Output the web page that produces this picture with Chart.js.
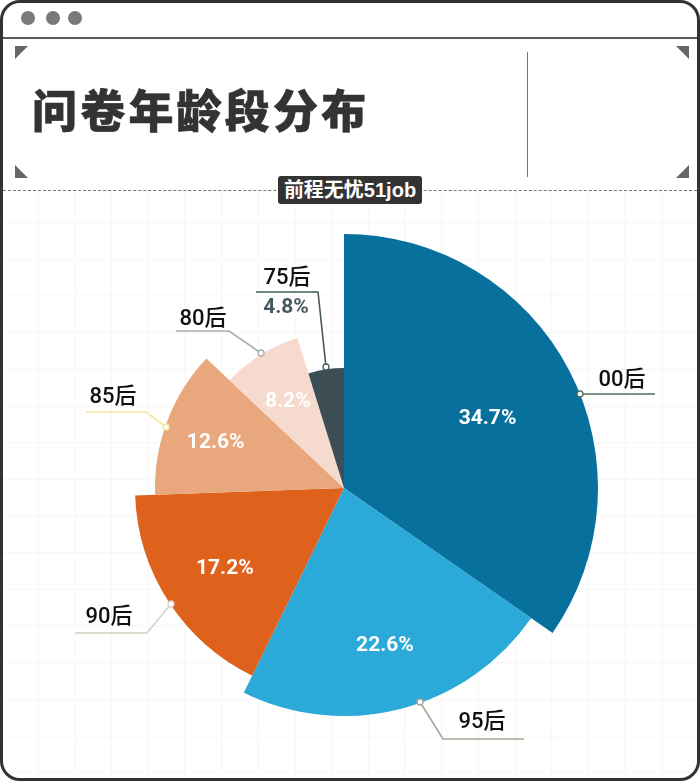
<!DOCTYPE html>
<html lang="zh">
<head>
<meta charset="utf-8">
<title>问卷年龄段分布</title>
<script src="https://cdn.jsdelivr.net/npm/chart.js@4/dist/chart.umd.min.js"></script>
<style>
  html, body { margin: 0; padding: 0; background: #fff; }
  #page { position: relative; width: 700px; height: 781px; overflow: hidden; background: #fff;
          font-family: "Noto Sans CJK SC", sans-serif; }
  /* faint grid under the pie */
  #grid { position: absolute; left: 0; top: 190px; width: 700px; height: 591px;
          background-image:
            linear-gradient(to right, #f6f6f6 1px, transparent 1px),
            linear-gradient(to bottom, #f6f6f6 1px, transparent 1px);
          background-size: 36.7px 36.7px; background-position: 1px 32px; }
  #chart { position: absolute; left: 0; top: 0; width: 700px; height: 781px; }
  #frame { position: absolute; left: 0; top: 0; width: 700px; height: 781px; box-sizing: border-box;
           border: 3px solid #333; border-radius: 20px; pointer-events: none; }
  .dot { position: absolute; top: 11px; width: 14px; height: 14px; border-radius: 50%; background: #7a7a7a; }
  #bar-line { position: absolute; left: 0; top: 37px; width: 700px; height: 2px; background: #5a5a5a; }
  #title { position: absolute; left: 32px; top: 76px; font-size: 45px; font-weight: 900; letter-spacing: 3.2px;
           line-height: 66px; color: #333; white-space: nowrap; -webkit-text-stroke: 0.6px #333; }
  #divider { position: absolute; left: 527px; top: 52px; width: 1px; height: 125px; background: #777; }
  #dash { position: absolute; left: 3px; right: 3px; top: 190px; border-top: 1px dashed #777; }
  #source { position: absolute; left: 278px; top: 176px; width: 144px; height: 28px; border-radius: 3px;
            background: #333; color: #fff; font-family: "Liberation Sans", "Noto Sans CJK SC", sans-serif;
            font-size: 20px; font-weight: 700; line-height: 28px; text-align: center; white-space: nowrap; }
  .tri { position: absolute; width: 0; height: 0; border-style: solid; }
</style>
</head>
<body>
<div id="page">
  <div id="grid"></div>
  <canvas id="chart" width="700" height="781"></canvas>
  <div id="bar-line"></div>
  <div class="dot" style="left:21px"></div>
  <div class="dot" style="left:46px"></div>
  <div class="dot" style="left:68px"></div>
  <div class="tri" style="left:15px;top:46px;border-width:13px 13px 0 0;border-color:#666 transparent transparent transparent"></div>
  <div class="tri" style="left:676px;top:46px;border-width:0 13px 13px 0;border-color:transparent #666 transparent transparent"></div>
  <div class="tri" style="left:15px;top:165px;border-width:13px 0 0 13px;border-color:transparent transparent transparent #666"></div>
  <div class="tri" style="left:676px;top:165px;border-width:0 0 13px 13px;border-color:transparent transparent #666 transparent"></div>
  <div id="title">问卷年龄段分布</div>
  <div id="divider"></div>
  <div id="dash"></div>
  <div id="source">前程无忧51job</div>
  <div id="frame"></div>
</div>

<script>
/* ── Data ──────────────────────────────────────────────── */
const categories = ['00后', '95后', '90后', '85后', '80后', '75后'];
const shares     = [34.7, 22.6, 17.2, 12.6, 8.2, 4.8];

/* ── Styling per slice ─────────────────────────────────── */
const sliceColors = ['#08709c', '#2ba9d8', '#de621c', '#e8a77c', '#f6dacd', '#3d4e55'];
const sliceRadius = [254, 228, 209, 189, 157, 120];
const valueRadius = [162, 163, 142, 137, 106, null];   // null: value sits next to the callout
const valueNudgeY = [6, 0, 3, 3, 4, 0];

/* ── Callouts: leader polyline + label, in page pixels ─── */
const callouts = [
  { color: '#4f6d60', line: [[580, 394], [655, 394]],               text: [622, 379] },
  { color: '#aba594', line: [[420, 702], [443, 739], [524, 739]],   text: [482, 721] },
  { color: '#d9d0c2', line: [[171, 604], [147, 633], [75, 633]],    text: [109, 616] },
  { color: '#f3e6a2', line: [[166, 427], [146, 412], [86, 412]],    text: [113, 396] },
  { color: '#a9adb0', line: [[261, 353], [229, 331], [176, 331]],   text: [203, 318] },
  { color: '#47595f', line: [[326, 367], [318, 292], [256, 292]],   text: [287, 277] },
];

const VALUE_FONT = 'bold 21px Roboto, sans-serif';
const LABEL_FONT = '500 22px Roboto, "Noto Sans CJK SC", sans-serif';

/* Each slice gets its own outer radius (rose style pie) */
const rosePlugin = {
  id: 'rose',
  afterDatasetsUpdate(chart) {
    chart.getDatasetMeta(0).data.forEach((arc, i) => { arc.outerRadius = sliceRadius[i]; });
  },
  afterDatasetsDraw(chart) {
    const { ctx } = chart;
    const arcs = chart.getDatasetMeta(0).data;
    ctx.save();

    callouts.forEach((c, i) => {
      ctx.strokeStyle = c.color;
      ctx.lineWidth = 1.6;
      ctx.beginPath();
      c.line.forEach(([x, y], k) => (k ? ctx.lineTo(x, y) : ctx.moveTo(x, y)));
      ctx.stroke();

      ctx.fillStyle = '#fff';
      ctx.lineWidth = 1.3;
      ctx.beginPath();
      ctx.arc(c.line[0][0], c.line[0][1], 3, 0, Math.PI * 2);
      ctx.fill();
      ctx.stroke();

      ctx.fillStyle = '#111';
      ctx.font = LABEL_FONT;
      ctx.textAlign = 'center';
      ctx.textBaseline = 'middle';
      ctx.fillText(categories[i], c.text[0], c.text[1] + 1);
    });

    ctx.font = VALUE_FONT;
    arcs.forEach((arc, i) => {
      const r = valueRadius[i];
      const label = shares[i].toFixed(1) + '%';
      if (r === null) {
        ctx.fillStyle = '#47595f';
        ctx.fillText(label, 286, 308);
        return;
      }
      const mid = (arc.startAngle + arc.endAngle) / 2;
      ctx.fillStyle = '#fff';
      ctx.fillText(label, arc.x + Math.cos(mid) * r, arc.y + Math.sin(mid) * r + valueNudgeY[i]);
    });

    ctx.restore();
  },
};

new Chart(document.getElementById('chart'), {
  type: 'pie',
  data: {
    labels: categories,
    datasets: [{ data: shares, backgroundColor: sliceColors, borderWidth: 0 }],
  },
  options: {
    responsive: false,
    animation: false,
    events: [],
    radius: 254,
    layout: { padding: { left: 0, right: 12, top: 195, bottom: 0 } },
    plugins: { legend: { display: false }, tooltip: { enabled: false } },
  },
  plugins: [rosePlugin],
});
</script>
</body>
</html>
